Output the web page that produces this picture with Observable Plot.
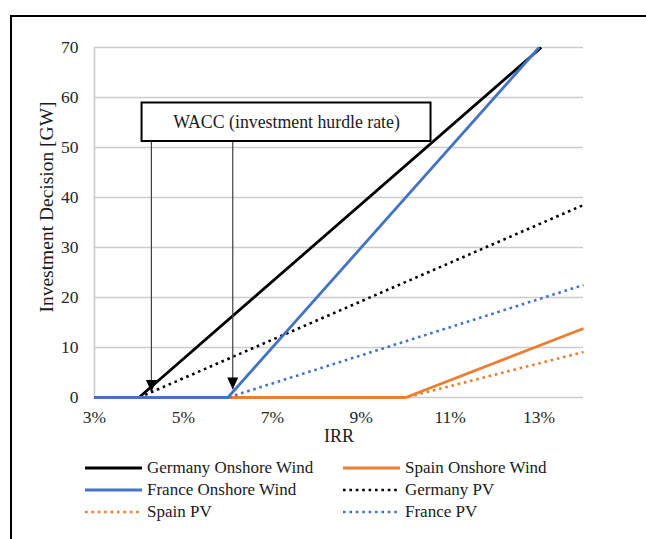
<!DOCTYPE html>
<html>
<head>
<meta charset="utf-8">
<script src="https://cdn.jsdelivr.net/npm/d3@7"></script>
<script src="https://cdn.jsdelivr.net/npm/@observablehq/plot@0.6"></script>
<style>
  html, body { margin: 0; padding: 0; background: #fff; }
  #wrap { position: relative; width: 646px; height: 539px; overflow: hidden; font-family: 'Liberation Serif', 'Times New Roman', serif; }
  #border { position: absolute; left: 10px; top: 15px; width: 700px; height: 600px; border: 2px solid #000; box-sizing: border-box; }
  #chart { position: absolute; left: 0; top: 0; }
  #ytitle { position: absolute; left: 47px; top: 207px; transform: translate(-50%, -50%) rotate(-90deg); font-size: 19.5px; color: #1a1a1a; white-space: nowrap; line-height: 1; }
  #legend { position: absolute; left: 85px; top: 457px; display: grid; grid-template-columns: 258px 260px; grid-auto-rows: 22px; font-size: 17px; color: #1a1a1a; }
  .item { display: flex; align-items: center; white-space: nowrap; }
  .item svg { margin-right: 5px; }
</style>
</head>
<body>
<div id="wrap">
  <div id="border"></div>
  <div id="chart"></div>
  <div id="ytitle">Investment Decision [GW]</div>
  <div id="legend"></div>
</div>
<script>
// ---- data ----
const irrTicks = [3, 5, 7, 9, 11, 13];
const gwTicks = [0, 10, 20, 30, 40, 50, 60, 70];

const germanyWindIRR = [3, 4, 13.05];
const germanyWindGW  = [0, 0, 70];
const franceWindIRR  = [3, 6, 13];
const franceWindGW   = [0, 0, 70];
const spainWindIRR   = [3, 10, 14];
const spainWindGW    = [0, 0, 13.8];
const germanyPvIRR   = [3, 4, 14];
const germanyPvGW    = [0, 0, 38.5];
const francePvIRR    = [3, 6, 14];
const francePvGW     = [0, 0, 22.5];
const spainPvIRR     = [3, 10, 14];
const spainPvGW      = [0, 0, 9.1];

const waccLabel = "WACC (investment hurdle rate)";
const waccBox = [{x1: 4.07, x2: 10.57, y1: 51.2, y2: 58.9}];
const waccArrowIRR = [4.28, 6.11];
const waccArrowTipGW = [1.1, 1.6];

// legend order (as in the reference)
const legendNames = ["Germany Onshore Wind", "Spain Onshore Wind", "France Onshore Wind", "Germany PV", "Spain PV", "France PV"];

// ---- build ----
const BLACK = "#000000", BLUE = "#4472C4", ORANGE = "#ED7D31";
const series = {
  "Germany Onshore Wind": {irr: germanyWindIRR, gw: germanyWindGW, color: BLACK, dotted: false},
  "Spain Onshore Wind":   {irr: spainWindIRR,   gw: spainWindGW,   color: ORANGE, dotted: false},
  "France Onshore Wind":  {irr: franceWindIRR,  gw: franceWindGW,  color: BLUE, dotted: false},
  "Germany PV":           {irr: germanyPvIRR,   gw: germanyPvGW,   color: BLACK, dotted: true},
  "Spain PV":             {irr: spainPvIRR,     gw: spainPvGW,     color: ORANGE, dotted: true},
  "France PV":            {irr: francePvIRR,    gw: francePvGW,    color: BLUE, dotted: true}
};
const drawOrder = ["Spain PV", "Spain Onshore Wind", "Germany PV", "Germany Onshore Wind", "France Onshore Wind", "France PV"];
const DASH = "2.6,3.8";

const lineMarks = drawOrder.map(name => {
  const s = series[name];
  const rows = s.irr.map((x, i) => ({irr: x, gw: s.gw[i]}));
  return Plot.line(rows, {
    x: "irr", y: "gw", stroke: s.color,
    strokeWidth: s.dotted ? 2.6 : 2.8,
    strokeDasharray: s.dotted ? DASH : null,
    strokeLinecap: "butt"
  });
});

const arrows = waccArrowIRR.map((x, i) => ({irr: x, tip: waccArrowTipGW[i], top: waccBox[0].y1}));
const downTriangle = {
  draw(context) {
    const w = 11, h = 12;
    context.moveTo(-w / 2, -h);
    context.lineTo(w / 2, -h);
    context.lineTo(0, 0);
    context.closePath();
  }
};

const plot = Plot.plot({
  width: 646, height: 450,
  marginTop: 47, marginLeft: 94, marginRight: 63, marginBottom: 53,
  style: {fontFamily: "'Liberation Serif', 'Times New Roman', serif", fontSize: "17px", color: "#262626", background: "transparent", overflow: "visible"},
  x: {domain: [3, 14]},
  y: {domain: [0, 70]},
  marks: [
    Plot.gridY(gwTicks, {stroke: "#cccccc", strokeOpacity: 1, strokeWidth: 1.6}),
    Plot.ruleX([3], {stroke: "#cccccc", strokeWidth: 1.6}),
    Plot.axisX(irrTicks, {tickSize: 0, tickPadding: 13, tickFormat: d => d + "%", label: null, fontSize: 17.5}),
    Plot.axisY(gwTicks, {tickSize: 0, tickPadding: 16, label: null, fontSize: 17.5}),
    ...lineMarks,
    Plot.ruleX(arrows, {x: "irr", y1: "top", y2: "tip", stroke: "#404040", strokeWidth: 1.2}),
    Plot.dot(arrows, {x: "irr", y: "tip", r: 5, symbol: downTriangle, fill: "#000", stroke: "none"}),
    Plot.rect(waccBox, {x1: "x1", x2: "x2", y1: "y1", y2: "y2", fill: "white", stroke: "#000", strokeWidth: 2}),
    Plot.text(waccBox, {x: d => (d.x1 + d.x2) / 2, y: d => (d.y1 + d.y2) / 2, text: () => waccLabel, fill: "#1a1a1a", fontSize: 17.8}),
    Plot.text(["IRR"], {frameAnchor: "bottom", dy: 44, fill: "#1a1a1a", fontSize: 18})
  ]
});
document.getElementById("chart").appendChild(plot);

// ---- legend ----
const legend = document.getElementById("legend");
legendNames.forEach(name => {
  const s = series[name];
  const item = document.createElement("div");
  item.className = "item";
  const ns = "http://www.w3.org/2000/svg";
  const svg = document.createElementNS(ns, "svg");
  svg.setAttribute("width", 57); svg.setAttribute("height", 6);
  const ln = document.createElementNS(ns, "line");
  ln.setAttribute("x1", 0); ln.setAttribute("x2", 57);
  ln.setAttribute("y1", 3); ln.setAttribute("y2", 3);
  ln.setAttribute("stroke", s.color);
  ln.setAttribute("stroke-width", s.dotted ? 2.6 : 2.8);
  if (s.dotted) ln.setAttribute("stroke-dasharray", DASH);
  svg.appendChild(ln);
  item.appendChild(svg);
  const t = document.createElement("span");
  t.textContent = name;
  item.appendChild(t);
  legend.appendChild(item);
});
</script>
</body>
</html>
